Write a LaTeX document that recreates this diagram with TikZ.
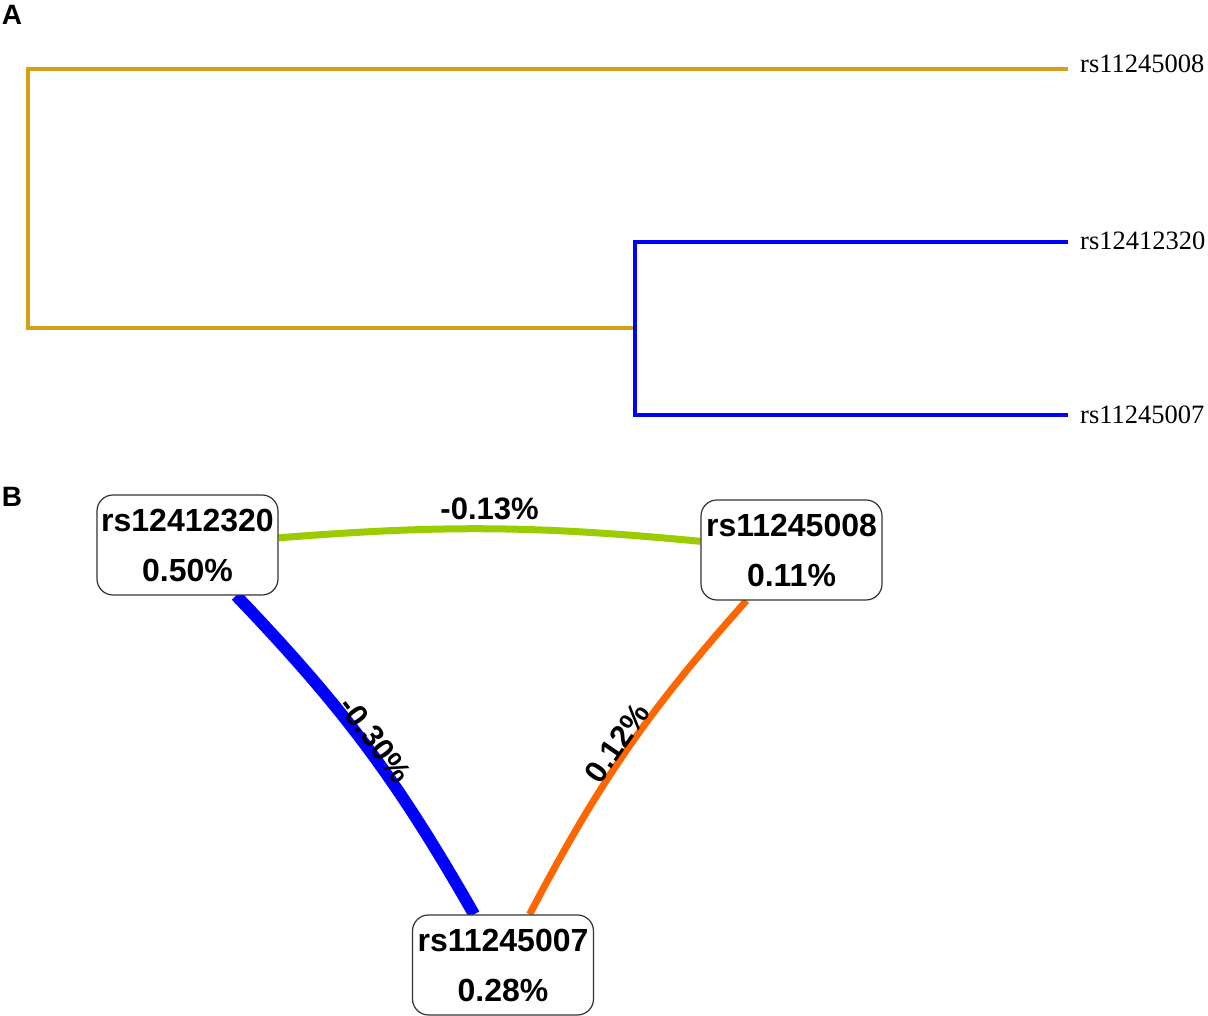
\documentclass[tikz,border=0pt]{standalone}
\usepackage{fontspec}
\setmainfont{Liberation Serif}
\setsansfont{Liberation Sans}
\usetikzlibrary{positioning}
\pgfdeclarelayer{bg}
\pgfsetlayers{bg,main}
\definecolor{dgold}{RGB}{214,160,20}
\definecolor{dblue}{RGB}{0,0,255}
\definecolor{egreen}{RGB}{154,204,0}
\definecolor{eorange}{RGB}{255,102,0}
\tikzset{
  dline/.style={line width=4pt},
  leaf/.style={anchor=west, inner sep=0pt, font=\fontsize{26.5}{30}\selectfont},
  panel/.style={inner sep=0pt, font=\sffamily\bfseries\fontsize{28}{30}\selectfont},
  snp/.style={draw=black!80, line width=1.2pt, rounded corners=16pt, fill=white,
    minimum width=181pt, minimum height=100pt, inner sep=0pt, align=center,
    font=\sffamily\bfseries\fontsize{32}{50}\selectfont},
  elabel/.style={text=black, font=\sffamily\bfseries\fontsize{31}{34}\selectfont, inner sep=2pt},
}
\begin{document}
\begin{tikzpicture}[x=1pt,y=1pt]
\useasboundingbox (0,0) rectangle (1208,1016);
% panel letters
\node[panel] (pa) at (12,1001) {A};
\node[panel] (pb) at (12,519) {B};
% dendrogram
\node[leaf] (t1) at (1080,952) {rs11245008};
\node[leaf] (t2) at (1080,775) {rs12412320};
\node[leaf] (t3) at (1080,601) {rs11245007};
\coordinate (e1) at (1068,947);
\coordinate (e2) at (1068,774);
\coordinate (e3) at (1068,601);
\coordinate (root) at (28,817.5);
\coordinate (sub) at (635,687.5);
\draw[dline, dgold] (e1) -- (root |- e1) -- (root |- sub) -- (sub);
\draw[dline, dblue] (e2) -- (sub |- e2) -- (sub |- e3) -- (e3);
% network
\node[snp] (n1) at (187.5,471) {rs12412320\\0.50\%};
\node[snp] (n2) at (791.5,466) {rs11245008\\0.11\%};
\node[snp] (n3) at (503,51) {rs11245007\\0.28\%};
\begin{pgfonlayer}{bg}
\draw[egreen, line width=7pt] (n1) to[bend left=5] node[elabel, above=3pt] (l1) {-0.13\%} (n2);
\draw[dblue, line width=12pt] (n1) to[bend left=7] node[elabel, sloped, pos=0.5, yshift=11pt] (l2) {-0.30\%} (n3);
\draw[eorange, line width=7pt] (n2) to[bend right=7] node[elabel, sloped, pos=0.5, yshift=12pt] (l3) {0.12\%} (n3);
\end{pgfonlayer}
\end{tikzpicture}
\end{document}
